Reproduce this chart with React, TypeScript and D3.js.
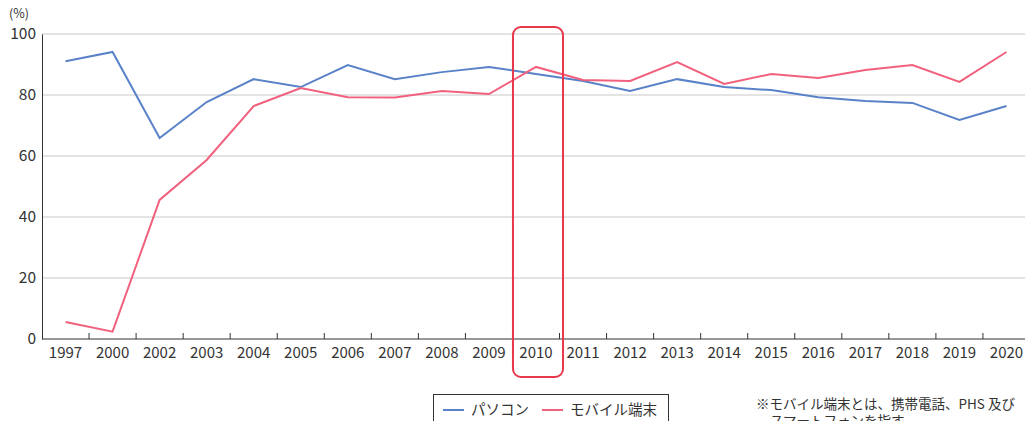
import * as d3 from 'd3';
import { useEffect, useRef } from 'react';

const years = ['1997', '2000', '2002', '2003', '2004', '2005', '2006', '2007', '2008', '2009', '2010',
    '2011', '2012', '2013', '2014', '2015', '2016', '2017', '2018', '2019', '2020'];
const pcValues = [91.1, 94.1, 65.9, 77.7, 85.2, 82.6, 89.8, 85.2, 87.5, 89.2, 86.9,
    84.6, 81.3, 85.2, 82.6, 81.6, 79.3, 78.0, 77.4, 71.8, 76.4];
const mobileValues = [5.6, 2.4, 45.6, 58.7, 76.4, 82.3, 79.3, 79.2, 81.3, 80.3, 89.2,
    84.9, 84.6, 90.8, 83.6, 86.9, 85.6, 88.2, 89.8, 84.3, 94.1];
const yTicks = [0, 20, 40, 60, 80, 100];
const seriesNames = ['パソコン', 'モバイル端末'];
const highlightYear = '2010';
const noteLines = ['※モバイル端末とは、携帯電話、PHS 及び', 'スマートフォンを指す'];

const width = 1025;
const height = 421;
const margin = { top: 34, right: -5, bottom: 82, left: 42 };
const font = "'Noto Sans CJK JP', 'Noto Sans', sans-serif";
const colors = ['#5a82c8', '#f1617d'];

export default function App() {
    const ref = useRef<SVGSVGElement>(null);

    useEffect(() => {
        const svg = d3.select(ref.current);
        svg.selectAll('*').remove();

        const x = d3.scaleBand()
            .domain(years)
            .range([margin.left, width - margin.right]);

        const y = d3.scaleLinear()
            .domain([0, 100])
            .range([height - margin.bottom, margin.top]);

        // grid lines
        svg.append('g')
            .selectAll('line')
            .data(yTicks.filter(d => d > 0))
            .join('line')
            .attr('x1', margin.left)
            .attr('x2', width)
            .attr('y1', d => y(d))
            .attr('y2', d => y(d))
            .attr('stroke', '#c8c8c8')
            .attr('stroke-width', 1);

        // y axis
        svg.append('g')
            .attr('transform', `translate(${margin.left},0)`)
            .call(d3.axisLeft(y).tickValues(yTicks).tickSize(0).tickPadding(6))
            .call(g => g.select('.domain').attr('stroke', '#333'))
            .call(g => g.selectAll('.tick text')
                .attr('fill', '#333')
                .attr('font-size', 15.5)
                .attr('font-family', font));

        svg.append('text')
            .attr('x', 9)
            .attr('y', 18)
            .attr('fill', '#333')
            .attr('font-size', 12.5)
            .attr('font-family', font)
            .text('(%)');

        // x axis with ticks between categories
        const xAxis = svg.append('g')
            .attr('transform', `translate(0,${y(0)})`);
        xAxis.append('line')
            .attr('x1', margin.left)
            .attr('x2', width)
            .attr('stroke', '#333');
        xAxis.selectAll('line.sep')
            .data(years.slice(1))
            .join('line')
            .attr('class', 'sep')
            .attr('x1', d => x(d)!)
            .attr('x2', d => x(d)!)
            .attr('y1', 0)
            .attr('y2', -6)
            .attr('stroke', '#333');
        xAxis.selectAll('text')
            .data(years)
            .join('text')
            .attr('x', d => x(d)! + x.bandwidth() / 2)
            .attr('y', 19)
            .attr('text-anchor', 'middle')
            .attr('fill', '#333')
            .attr('font-size', 15)
            .attr('font-family', font)
            .text(d => d);

        // lines
        const line = d3.line<number>()
            .x((_, i) => x(years[i])! + x.bandwidth() / 2)
            .y(d => y(d));

        [pcValues, mobileValues].forEach((values, i) => {
            svg.append('path')
                .attr('fill', 'none')
                .attr('stroke', colors[i])
                .attr('stroke-width', 2)
                .attr('d', line(values));
        });

        // highlight box around 2010
        svg.append('rect')
            .attr('x', x(highlightYear)! + 0.5)
            .attr('y', 27)
            .attr('width', x.bandwidth() + 3)
            .attr('height', 350)
            .attr('rx', 8)
            .attr('fill', 'none')
            .attr('stroke', '#e8394b')
            .attr('stroke-width', 2);

        // legend
        const legend = svg.append('g').attr('transform', 'translate(433,394)');
        legend.append('rect')
            .attr('x', 0.5)
            .attr('y', 0.5)
            .attr('width', 235)
            .attr('height', 40)
            .attr('fill', '#fff')
            .attr('stroke', '#333');
        const legendX = [10, 109];
        seriesNames.forEach((name, i) => {
            legend.append('line')
                .attr('x1', legendX[i])
                .attr('x2', legendX[i] + 21)
                .attr('y1', 16)
                .attr('y2', 16)
                .attr('stroke', colors[i])
                .attr('stroke-width', 2);
            legend.append('text')
                .attr('x', legendX[i] + 28)
                .attr('y', 21)
                .attr('fill', '#333')
                .attr('font-size', 14.5)
                .attr('font-family', font)
                .text(name);
        });

        // note
        svg.append('g')
            .selectAll('text')
            .data(noteLines)
            .join('text')
            .attr('x', (_, i) => i === 0 ? 756 : 770)
            .attr('y', (_, i) => 409 + i * 17)
            .attr('fill', '#333')
            .attr('font-size', 13.5)
            .attr('font-family', font)
            .text(d => d);
    }, []);

    return (
        <svg ref={ref} width={width} height={height}
            style={{ position: 'absolute', left: 0, top: 0, background: '#fff' }} />
    );
}
